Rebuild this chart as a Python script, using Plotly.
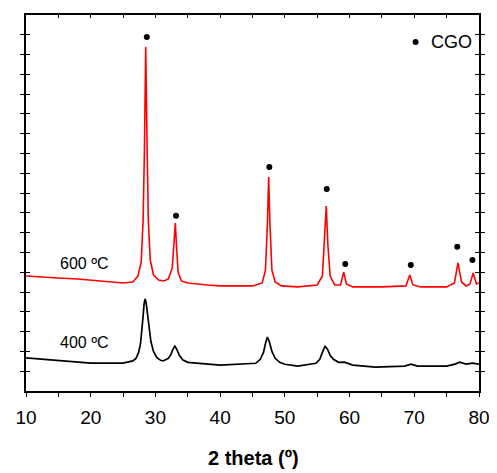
import plotly.graph_objects as go

# 600 ºC pattern (2theta, intensity a.u.)
x600 = [10, 12, 15, 18, 20, 22, 25, 26.5, 27.3, 27.8, 28.1, 28.3, 28.5, 28.7, 28.9, 29.2, 29.7,
        30.5, 31.3, 32.0, 32.6, 32.9, 33.07, 33.25, 33.5, 34.0, 35, 38, 40, 43, 45, 46.5, 47.0,
        47.3, 47.5, 47.7, 48.0, 48.5, 49.5, 52, 55, 55.8, 56.1, 56.4, 56.65, 57.0, 57.7, 58.6,
        59.1, 59.5, 60.5, 63, 65, 68.7, 69.3, 69.8, 71, 73, 75, 76.2, 76.75, 77.3, 78, 78.6,
        79.1, 79.6, 80]
y600 = [581, 576, 571, 566, 561, 556, 546, 551, 581, 652, 864, 1218, 1738, 1263, 864, 662, 586,
        561, 556, 566, 622, 763, 849, 738, 601, 556, 546, 536, 531, 531, 531, 546, 611,
        839, 1081, 839, 611, 551, 531, 526, 536, 581, 738, 935, 738, 581, 536, 536,
        601, 541, 526, 526, 526, 531, 586, 536, 526, 526, 526, 546, 647, 551, 531, 541,
        596, 541, 546]

# 400 ºC pattern
x400 = [10, 12, 15, 20, 25, 26.5, 27.0, 27.4, 27.7, 27.9, 28.1, 28.25, 28.4, 28.55, 28.75, 29.0,
        29.3, 29.7, 30.2, 30.8, 31.2, 32.0, 32.4, 32.7, 33.0, 33.3, 33.7, 34.2, 35.0, 40,
        45.5, 46.2, 46.7, 47.0, 47.3, 47.6, 48.0, 48.5, 49.2, 50, 52, 54.8, 55.4, 55.8, 56.2,
        56.6, 57.0, 57.5, 58.3, 59.2, 60.5, 64, 68.5, 69.5, 70.5, 75, 76.3, 77.0, 78.0,
        79.0, 80]
y400 = [167, 162, 152, 141, 141, 152, 165, 195, 240, 300, 380, 440, 465, 450, 390, 315,
        250, 200, 170, 155, 152, 165, 185, 210, 227, 210, 180, 158, 145, 131,
        140, 160, 195, 240, 273, 250, 200, 165, 145, 135, 126, 140, 160, 195, 227,
        210, 180, 160, 145, 146, 131, 121, 126, 136, 126, 126, 136, 146, 136,
        141, 136]

# CGO reflection markers
x_cgo = [28.67, 33.18, 47.6, 56.47, 59.33, 69.46, 76.64, 78.99]
y_cgo = [1789, 886, 1132, 1021, 642, 637, 729, 662]

legend_x = [70.2]
legend_y = [1763]

fig = go.Figure()
fig.add_trace(go.Scatter(x=x400, y=y400, mode="lines", line=dict(color="black", width=1.7),
                         showlegend=False, hoverinfo="skip"))
fig.add_trace(go.Scatter(x=x600, y=y600, mode="lines", line=dict(color="#ff0000", width=1.6),
                         showlegend=False, hoverinfo="skip"))
fig.add_trace(go.Scatter(x=x_cgo, y=y_cgo, mode="markers", marker=dict(color="black", size=6),
                         showlegend=False, hoverinfo="skip"))
fig.add_trace(go.Scatter(x=legend_x, y=legend_y, mode="markers", marker=dict(color="black", size=6),
                         showlegend=False, hoverinfo="skip"))
# invisible trace to activate top axis
fig.add_trace(go.Scatter(x=[10, 80], y=[0, 0], xaxis="x2", mode="markers",
                         marker=dict(opacity=0), showlegend=False, hoverinfo="skip"))

font_family = "Liberation Sans, Arial, sans-serif"

fig.update_layout(
    width=489, height=465,
    margin=dict(l=13, r=11, t=7, b=82),
    paper_bgcolor="white", plot_bgcolor="white",
    font=dict(family=font_family, color="black"),
    xaxis=dict(range=[10, 80], dtick=10, tick0=10, ticks="outside", ticklen=4, tickwidth=1.2,
               tickcolor="black", showline=True, linecolor="black", linewidth=1.5,
               showgrid=False, zeroline=False, tickfont=dict(size=19, family=font_family),
               ticklabelstandoff=4,
               minor=dict(dtick=5, ticks="outside", ticklen=4, tickwidth=1.2, tickcolor="black")),
    xaxis2=dict(range=[10, 80], dtick=5, tick0=10, overlaying="x", side="top", ticks="inside",
                ticklen=3, tickwidth=1.2, tickcolor="black", showline=True, linecolor="black",
                linewidth=1.5, showticklabels=False, showgrid=False, zeroline=False),
    yaxis=dict(range=[0, 1900], dtick=100, tick0=0, ticks="inside", ticklen=4, tickwidth=1.2,
               tickcolor="black", showline=True, linecolor="black", linewidth=1.5,
               mirror="allticks", showticklabels=False, showgrid=False, zeroline=False),
    annotations=[
        dict(text="2 theta (º)", xref="paper", yref="paper", x=0.503, y=-0.178,
             xanchor="center", yanchor="middle", showarrow=False,
             font=dict(size=20, family=font_family, color="black", weight="bold")),
        dict(text="600 ºC", xref="x", yref="y", x=19.0, y=642, xanchor="center",
             yanchor="middle", showarrow=False, font=dict(size=16, family=font_family)),
        dict(text="400 ºC", xref="x", yref="y", x=19.1, y=243, xanchor="center",
             yanchor="middle", showarrow=False, font=dict(size=16, family=font_family)),
        dict(text="CGO", xref="x", yref="y", x=72.2, y=1763, xanchor="left",
             yanchor="middle", showarrow=False, font=dict(size=18, family=font_family)),
    ],
)

fig.write_html("out.html")
